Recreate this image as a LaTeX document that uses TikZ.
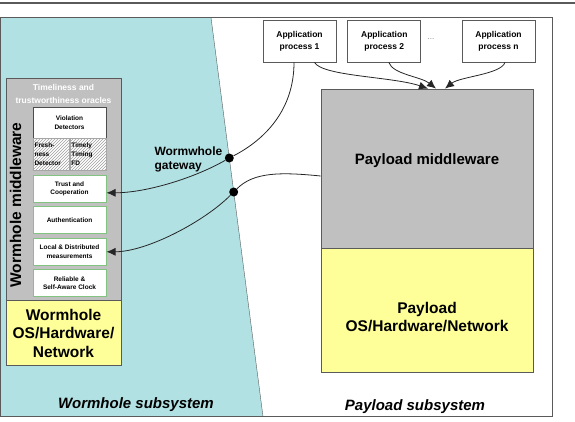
\documentclass[tikz,border=0pt]{standalone}
\usepackage{fontspec}
\setmainfont{Liberation Sans}
\usepackage{tikz}
\usetikzlibrary{positioning, patterns, arrows.meta}

\definecolor{boxline}{RGB}{90,90,90}
\definecolor{svcgreen}{RGB}{130,195,130}
\definecolor{mwgray}{RGB}{192,192,192}
\definecolor{osyellow}{RGB}{255,255,153}
\definecolor{wormcyan}{RGB}{178,225,227}

\begin{document}
\begin{tikzpicture}[x=1pt, y=-1pt,
	app/.style={rectangle, draw=boxline, fill=white, line width=0.8pt, align=center,
		minimum width=73pt, minimum height=42pt, font=\fontsize{8.5}{12}\selectfont\bfseries},
	svc/.style={rectangle, draw=svcgreen, line width=1pt, fill=white, align=center, inner sep=0pt,
		minimum width=73pt, minimum height=27pt, font=\fontsize{6.5}{8.5}\selectfont\bfseries},
	hatch/.style={rectangle, draw=gray!70, preaction={fill=white}, pattern=north east lines,
		pattern color=gray!75, align=left, text width=33pt, inner xsep=1.75pt, inner ysep=0pt,
		minimum height=32pt, font=\fontsize{6.5}{9}\selectfont\bfseries},
	layer/.style={rectangle, draw=boxline, line width=0.8pt, align=center, inner sep=0pt,
		font=\fontsize{15.5}{18.5}\selectfont\bfseries},
	gate/.style={circle, fill=black, inner sep=0pt, minimum size=9pt},
	link/.style={line width=0.8pt, black!85},
	feed/.style={link, -{Latex[length=9pt,width=8pt]}},
	caption/.style={font=\fontsize{15}{18}\selectfont\bfseries\itshape}
	]
	\useasboundingbox (0,0) rectangle (575,422);
	\draw[boxline, line width=1.2pt] (0,3) -- (575,3);
	\fill[wormcyan] (0.5,17.5) -- (211,17.5) -- (263,416.5) -- (0.5,416.5) -- cycle;
	\draw[boxline] (211,17.5) -- (263,416.5);
	\draw[boxline] (0.5,17.5) rectangle (552,416.5);

	% wormhole side
	\node[layer, fill=mwgray, minimum width=115pt, minimum height=222pt] (wmw) at (63.5,189) {};
	\node[layer, fill=osyellow, minimum width=115pt, minimum height=65pt, below=0pt of wmw] (wos)
	{Wormhole\\OS/Hardware/\\Network};
	\node[rotate=90, font=\fontsize{15.5}{18}\selectfont\bfseries] (wmwtext) at (15.5,205)
	{Wormhole middleware};
	\node[white, align=center, font=\fontsize{8.5}{12.5}\selectfont\bfseries] (oracles) at (63.5,94)
	{Timeliness and\\trustworthiness oracles};

	\node[svc, draw=gray!60!black, line width=0.8pt, minimum height=31pt] (viol) at (69.5,122.5)
	{Violation\\Detectors};
	\node[hatch, anchor=north west] (fresh) at (viol.south west) {Fresh-\\ness\\Detector};
	\node[hatch, anchor=north east] (timely) at (viol.south east) {Timely\\Timing\\FD};
	\node[svc, below=4pt of fresh.south east] (trust) {Trust and\\Cooperation};
	\node[svc, below=3.5pt of trust] (auth) {Authentication};
	\node[svc, below=3.5pt of auth] (local) {Local \& Distributed\\measurements};
	\node[svc, below=3.5pt of local] (clock) {Reliable \&\\Self-Aware Clock};

	% payload side
	\node[layer, fill=mwgray, minimum width=212pt, minimum height=159pt] (pmw) at (427,168.5) {};
	\node[layer, fill=osyellow, minimum width=212pt, minimum height=124pt, below=0pt of pmw] (pos) {};
	\node[font=\fontsize{15}{18}\selectfont\bfseries] (pmwtext) at ([yshift=8pt]pmw.center)
	{Payload middleware};
	\node[align=center, font=\fontsize{15.5}{18.5}\selectfont\bfseries] (postext)
	at ([yshift=-6pt]pos.center) {Payload\\OS/Hardware/Network};

	\node[app] (app1) at (299.5,41) {Application\\process 1};
	\node[app, right=11pt of app1] (app2) {Application\\process 2};
	\node[app] (appn) at (498.5,41) {Application\\process n};
	\node[gray, font=\fontsize{8}{9}\selectfont] (dots) at (431,39) {...};

	% gateway
	\node[gate] (gw1) at (229.3,158) {};
	\node[gate] (gw2) at (233.7,192) {};
	\node[anchor=west, align=left, font=\fontsize{12}{14}\selectfont\bfseries] (gwtext) at (151,159)
	{Wormwhole\\gateway};

	\draw[link] ([xshift=-5.5pt]app1.south) .. controls +(0,48) and +(35,-18) .. (gw1);
	\draw[feed] (gw1) .. controls +(-35,20) and +(40,0) .. ([yshift=-4pt]trust.east);
	\draw[link] (gw2) .. controls +(20,-20) and +(-40,-4) .. ([yshift=-7.5pt]pmw.west);
	\draw[feed] (gw2) .. controls +(-30,30) and +(40,0) .. (local.east);

	\draw[feed] ([xshift=15pt]app1.south) .. controls +(8,14) and +(-35,-12) .. ([xshift=1pt]pmw.north);
	\draw[feed] ([xshift=4.5pt]app2.south) .. controls +(4,12) and +(-15,-12) .. ([xshift=9pt]pmw.north);
	\draw[feed] ([xshift=6.5pt]appn.south) .. controls +(-4,12) and +(15,-12) .. ([xshift=18pt]pmw.north);

	\node[caption] (wcap) at (136,405) {Wormhole subsystem};
	\node[caption] (pcap) at (415,407) {Payload subsystem};
\end{tikzpicture}
\end{document}
